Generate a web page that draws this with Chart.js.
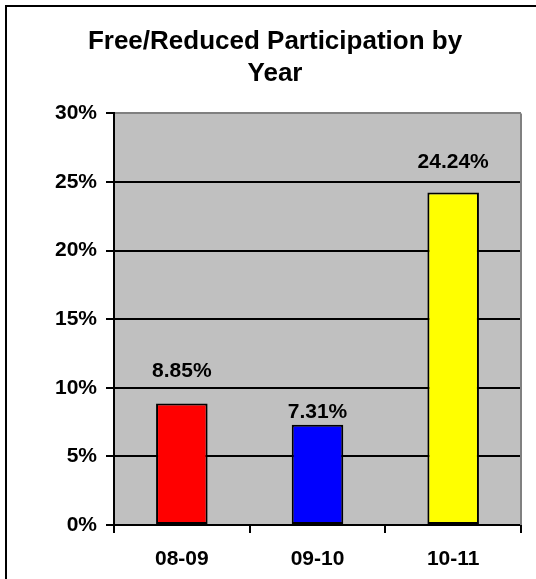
<!DOCTYPE html>
<html>
<head>
<meta charset="utf-8">
<script src="https://cdn.jsdelivr.net/npm/chart.js@4/dist/chart.umd.min.js"></script>
<style>
  html, body { margin: 0; padding: 0; background: #fff; }
  #wrap { width: 536px; height: 579px; }
</style>
</head>
<body>
<div id="wrap"><canvas id="myChart" width="536" height="579"></canvas></div>
<script>
const years = ['08-09', '09-10', '10-11'];
const participation = [8.85, 7.31, 24.24];
const barColors = ['#ff0000', '#0000ff', '#ffff00'];
const yTicks = [0, 5, 10, 15, 20, 25, 30];

// how far above each bar top its label sits (Excel placed them by hand)
const labelLift = [32, 13, 30];

Chart.defaults.font.family = "'Liberation Sans', Arial, sans-serif";
Chart.defaults.font.weight = 'bold';
Chart.defaults.color = '#000';

const frame = {
    id: 'frame',
    beforeDraw(chart) {
        const ctx = chart.ctx;
        const a = chart.chartArea;
        ctx.save();
        ctx.fillStyle = '#fff';
        ctx.fillRect(0, 0, chart.width, chart.height);
        ctx.strokeStyle = '#000';
        ctx.lineWidth = 2;
        ctx.strokeRect(6, 6, chart.width + 20, chart.height + 20);
        ctx.fillStyle = '#c0c0c0';
        ctx.fillRect(a.left, a.top, a.right - a.left, a.bottom - a.top);
        ctx.restore();
    },
    beforeDatasetsDraw(chart) {
        const ctx = chart.ctx;
        const a = chart.chartArea;
        ctx.save();
        ctx.strokeStyle = '#808080';
        ctx.lineWidth = 2;
        ctx.beginPath();
        ctx.moveTo(a.right, a.top);
        ctx.lineTo(a.right, a.bottom);
        ctx.stroke();
        ctx.restore();
    }
};

const valueLabels = {
    id: 'valueLabels',
    afterDatasetsDraw(chart) {
        const ctx = chart.ctx;
        const meta = chart.getDatasetMeta(0);
        ctx.save();
        ctx.font = "bold 21px 'Liberation Sans', Arial, sans-serif";
        ctx.fillStyle = '#000';
        ctx.textAlign = 'center';
        ctx.textBaseline = 'middle';
        meta.data.forEach((bar, i) => {
            ctx.fillText(participation[i].toFixed(2) + '%', bar.x, bar.y - labelLift[i]);
        });
        ctx.restore();
    }
};

let data = {
    labels: years,
    datasets: [{
        label: 'Free/Reduced',
        data: participation,
        backgroundColor: barColors,
        borderColor: '#000',
        borderWidth: 2,
        borderSkipped: false,
        barPercentage: 0.38,
        categoryPercentage: 1
    }]
};

let config = {
    type: 'bar',
    data: data,
    plugins: [frame, valueLabels],
    options: {
        responsive: false,
        animation: false,
        layout: { padding: { left: 29, right: 15, top: 0, bottom: 0 } },
        plugins: {
            legend: { display: false },
            tooltip: { enabled: false },
            title: {
                display: true,
                text: ['Free/Reduced Participation by', 'Year'],
                font: { size: 26, weight: 'bold', lineHeight: 1.22 },
                color: '#000',
                padding: { top: 26, bottom: 24 }
            }
        },
        scales: {
            x: {
                grid: {
                    drawOnChartArea: false,
                    color: '#000',
                    lineWidth: 2,
                    tickLength: 8
                },
                border: { color: '#000', width: 2 },
                ticks: { font: { size: 21, weight: 'bold' }, padding: 14 },
                afterFit(scale) { scale.height = 54; }
            },
            y: {
                min: 0,
                max: 30,
                afterBuildTicks(scale) {
                    scale.ticks = yTicks.map(v => ({ value: v }));
                },
                grid: {
                    color: ctx => (ctx.tick && ctx.tick.value === 30) ? '#808080' : '#000',
                    tickColor: '#000',
                    lineWidth: 2,
                    tickLength: 8
                },
                border: { color: '#000', width: 2 },
                ticks: {
                    font: { size: 21, weight: 'bold' },
                    padding: 9,
                    callback: v => v + '%'
                },
                afterFit(scale) { scale.width = 85; }
            }
        }
    }
};

let myChart = new Chart(document.getElementById('myChart'), config);
</script>
</body>
</html>
